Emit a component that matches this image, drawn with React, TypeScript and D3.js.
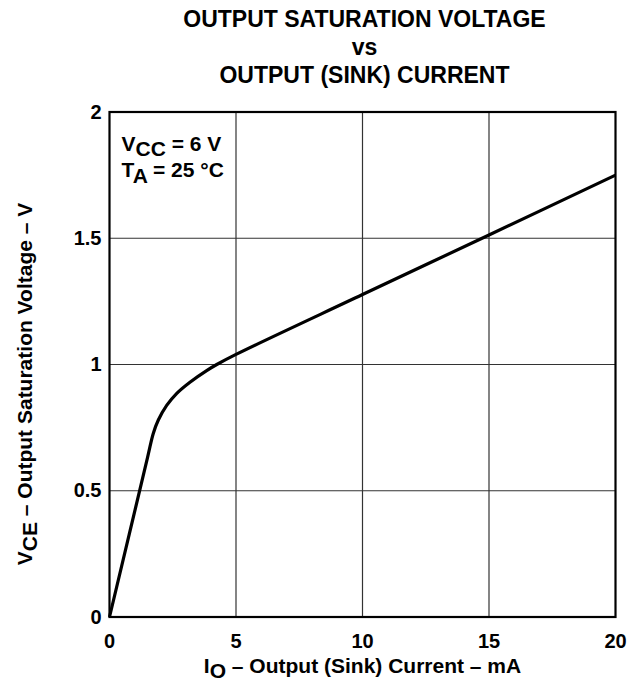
import React from 'react';
import * as d3 from 'd3';

// 곡선 데이터 (mA, V)
const currentMA = [0, 1.5, 1.73, 1.93, 2.26, 2.66, 3.18, 3.84, 4.24, 5, 10, 15, 20];
const voltageV = [0, 0.63, 0.727, 0.78, 0.838, 0.886, 0.93, 0.976, 1.0, 1.04, 1.277, 1.513, 1.75];
const xTicks = [0, 5, 10, 15, 20];
const yTicks = [0, 0.5, 1, 1.5, 2];
const titleLines = ['OUTPUT SATURATION VOLTAGE', 'vs', 'OUTPUT (SINK) CURRENT'];

const W = 635;
const H = 684;
const margin = { left: 109.5, right: 19.5, top: 112, bottom: 67 };
const font = '"Liberation Sans", Arial, sans-serif';

const App: React.FC = () => {
  const x = d3.scaleLinear().domain([0, 20]).range([margin.left, W - margin.right]);
  const y = d3.scaleLinear().domain([0, 2]).range([H - margin.bottom, margin.top]);

  const points = currentMA.map((c, i) => [c, voltageV[i]] as [number, number]);
  const line = d3
    .line<[number, number]>()
    .x((d) => x(d[0]))
    .y((d) => y(d[1]))
    .curve(d3.curveCatmullRom.alpha(0.5));

  const cx = (margin.left + W - margin.right) / 2;
  const cy = 384;

  return (
    <svg width={W} height={H} style={{ position: 'absolute', left: 0, top: 0 }} fontFamily={font} fontWeight="bold">
      <rect width={W} height={H} fill="#fff" />
      {titleLines.map((t, i) => (
        <text key={t} x={cx + 2} y={27 + i * 28} textAnchor="middle" fontSize={23}>
          {t}
        </text>
      ))}
      {/* 격자 */}
      {xTicks.slice(1, -1).map((t) => (
        <line key={'gx' + t} x1={x(t)} x2={x(t)} y1={y(0)} y2={y(2)} stroke="#333" strokeWidth={1.2} />
      ))}
      {yTicks.slice(1, -1).map((t) => (
        <line key={'gy' + t} x1={x(0)} x2={x(20)} y1={y(t)} y2={y(t)} stroke="#333" strokeWidth={1.2} />
      ))}
      <rect
        x={x(0)}
        y={y(2)}
        width={x(20) - x(0)}
        height={y(0) - y(2)}
        fill="none"
        stroke="#000"
        strokeWidth={2.2}
      />
      <path d={line(points)!} fill="none" stroke="#000" strokeWidth={3.2} strokeLinejoin="round" />
      {/* 눈금 라벨 */}
      {xTicks.map((t) => (
        <text key={'xt' + t} x={x(t)} y={y(0) + 31} textAnchor="middle" fontSize={20}>
          {t}
        </text>
      ))}
      {yTicks.map((t) => (
        <text key={'yt' + t} x={x(0) - 8} y={y(t) + 6.5} textAnchor="end" fontSize={20}>
          {t}
        </text>
      ))}
      {/* 조건 */}
      <text x={x(0) + 12} y={151} fontSize={21}>
        V<tspan dy={5}>CC</tspan>
        <tspan dy={-5}> = 6 V</tspan>
      </text>
      <text x={x(0) + 12} y={177} fontSize={21}>
        T<tspan dy={6}>A</tspan>
        <tspan dy={-6}> = 25 °C</tspan>
      </text>
      {/* 축 제목 */}
      <text x={cx} y={673} textAnchor="middle" fontSize={21}>
        I<tspan dy={5}>O</tspan>
        <tspan dy={-5}> – Output (Sink) Current – mA</tspan>
      </text>
      <text transform={`translate(32,${cy}) rotate(-90)`} textAnchor="middle" fontSize={21}>
        V<tspan dy={5}>CE</tspan>
        <tspan dy={-5}> – Output Saturation Voltage – V</tspan>
      </text>
    </svg>
  );
};

export default App;
